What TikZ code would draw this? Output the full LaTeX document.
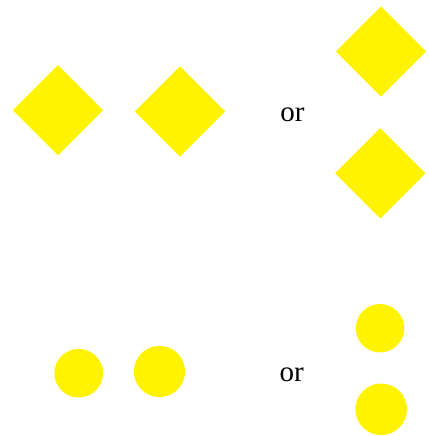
\documentclass[tikz,border=0pt]{standalone}
\usepackage{fontspec}
\setmainfont{Liberation Serif}
\usetikzlibrary{shapes.geometric}
\definecolor{yel}{RGB}{255,243,0}
\begin{document}
\begin{tikzpicture}[x=1pt,y=-1pt,
  dia/.style={diamond,fill=yel,draw=none,inner sep=0pt,minimum width=90.5pt,minimum height=90.5pt},
  dot/.style={circle,fill=yel,draw=none,inner sep=0pt},
  ortext/.style={font=\fontsize{29}{32}\selectfont,inner sep=0pt,anchor=base}]
\useasboundingbox (0,0) rectangle (428,436);
\node[dia] (d1) at (58,110.3) {};
\node[dia] (d2) at (180,111.5) {};
\node[dia] (d3) at (381,51.5) {};
\node[dia] (d4) at (380.3,173.3) {};
\node[ortext] (or1) at (292.5,121.5) {or};
\node[dot,minimum size=48.6pt] (c1) at (78.7,373.2) {};
\node[dot,minimum size=51.2pt] (c2) at (159.5,371.5) {};
\node[dot,minimum size=48.4pt] (c3) at (380,328.2) {};
\node[dot,minimum size=51.6pt] (c4) at (381.2,409.3) {};
\node[ortext] (or2) at (291.7,381.5) {or};
\end{tikzpicture}
\end{document}
